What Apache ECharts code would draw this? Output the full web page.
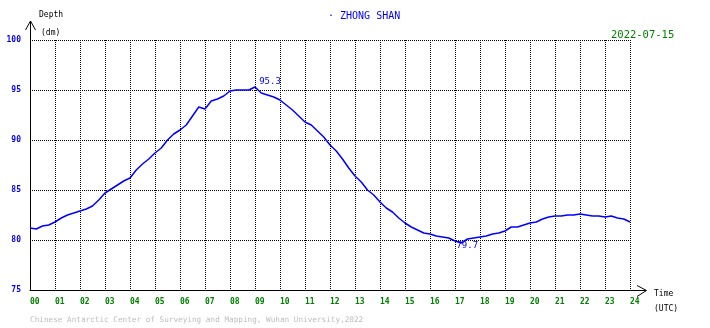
<!DOCTYPE html>
<html>
<head>
<meta charset="utf-8">
<script src="https://cdn.jsdelivr.net/npm/echarts@6/dist/echarts.min.js"></script>
<style>html,body{margin:0;padding:0;background:#fff;}#c{width:710px;height:328px;}</style>
</head>
<body>
<div id="c"></div>
<script>
// Depth (dm) sampled every 15 minutes, 00:00 .. 24:00 UTC
const stepMinutes = 15;
const depthValues = [
  81.2, 81.1, 81.4, 81.5, 81.8, 82.2, 82.5, 82.7, 82.9, 83.1, 83.4, 84.0,
  84.7, 85.1, 85.5, 85.9, 86.2, 87.0, 87.6, 88.1, 88.7, 89.2, 90.0, 90.6,
  91.0, 91.5, 92.4, 93.3, 93.1, 93.9, 94.1, 94.4, 94.9, 95.0, 95.0, 95.0,
  95.3, 94.7, 94.5, 94.3, 94.0, 93.5, 93.0, 92.4, 91.8, 91.5, 90.9, 90.3,
  89.5, 88.9, 88.1, 87.2, 86.4, 85.8, 85.0, 84.5, 83.8, 83.2, 82.8, 82.2,
  81.7, 81.3, 81.0, 80.7, 80.6, 80.4, 80.3, 80.2, 79.9, 79.7, 80.1, 80.2,
  80.3, 80.4, 80.6, 80.7, 80.9, 81.3, 81.3, 81.5, 81.7, 81.8, 82.1, 82.3,
  82.4, 82.4, 82.5, 82.5, 82.6, 82.5, 82.4, 82.4, 82.3, 82.4, 82.2, 82.1,
  81.8
];
const xTickLabels = ['00','01','02','03','04','05','06','07','08','09','10','11','12',
                     '13','14','15','16','17','18','19','20','21','22','23','24'];
const yTicks = [75, 80, 85, 90, 95, 100];
const titleText = '· ZHONG SHAN';
const dateText = '2022-07-15';
const footerText = 'Chinese Antarctic Center of Surveying and Mapping, Wuhan University,2022';

const seriesData = depthValues.map((v, i) => [i * stepMinutes / 60, v]);
const MONO = '"DejaVu Sans Mono", "Liberation Mono", monospace';

const chart = echarts.init(document.getElementById('c'), null, {renderer: 'canvas'});
chart.setOption({
  animation: false,
  backgroundColor: '#ffffff',
  grid: {left: 30, right: 80, top: 40, bottom: 38, containLabel: false},
  xAxis: {
    type: 'value', min: 0, max: 24, interval: 1,
    axisLine: {show: true, lineStyle: {color: '#000', width: 1}},
    axisTick: {show: false},
    axisLabel: {
      color: '#008000', fontFamily: MONO, fontSize: 8, fontWeight: 'bold',
      align: 'left', margin: 8,
      formatter: v => xTickLabels[Math.round(v)]
    },
    splitLine: {show: true, lineStyle: {color: '#000', type: [1, 1], width: 1}}
  },
  yAxis: {
    type: 'value', min: yTicks[0], max: yTicks[yTicks.length - 1], interval: 5,
    axisLine: {show: true, lineStyle: {color: '#000', width: 1}},
    axisTick: {show: false},
    axisLabel: {color: '#0000ff', fontFamily: MONO, fontSize: 8, fontWeight: 'bold', margin: 9},
    splitLine: {show: true, lineStyle: {color: '#000', type: [1, 1], width: 1}}
  },
  series: [{
    type: 'line',
    data: seriesData,
    showSymbol: false,
    lineStyle: {color: '#0000ff', width: 1.5},
    itemStyle: {color: '#0000ff'},
    markPoint: {
      symbol: 'circle', symbolSize: 0,
      label: {
        show: true, color: '#0000ff', fontFamily: MONO, fontSize: 9,
        formatter: p => p.value.toFixed(1)
      },
      data: [
        {type: 'max', valueDim: 'y', label: {offset: [15, -5]}},
        {type: 'min', valueDim: 'y', label: {offset: [6, 3]}}
      ]
    }
  }],
  graphic: [
    {type: 'line', shape: {x1: 30.5, y1: 21, x2: 30.5, y2: 40}, style: {stroke: '#000', lineWidth: 1}},
    {type: 'polyline', shape: {points: [[25.5, 30], [30.5, 21], [35.5, 30]]}, style: {stroke: '#000', lineWidth: 1, fill: null}},
    {type: 'line', shape: {x1: 630, y1: 290.5, x2: 646, y2: 290.5}, style: {stroke: '#000', lineWidth: 1}},
    {type: 'polyline', shape: {points: [[637, 285.5], [646.5, 290.5], [637, 296.5]]}, style: {stroke: '#000', lineWidth: 1, fill: null}},
    {type: 'text', left: 328, top: 11, style: {text: titleText, fill: '#0000ff', font: '10px ' + MONO}},
    {type: 'text', left: 611, top: 30, style: {text: dateText, fill: '#008000', font: '10.5px ' + MONO}},
    {type: 'text', left: 39, top: 11, style: {text: 'Depth', fill: '#000', font: '8px ' + MONO}},
    {type: 'text', left: 41, top: 29, style: {text: '(dm)', fill: '#000', font: '8px ' + MONO}},
    {type: 'text', left: 654, top: 290, style: {text: 'Time', fill: '#000', font: '8px ' + MONO}},
    {type: 'text', left: 654, top: 305, style: {text: '(UTC)', fill: '#000', font: '8px ' + MONO}},
    {type: 'text', left: 30, top: 316, style: {text: footerText, fill: '#bdbdbd', font: '7.7px ' + MONO}}
  ]
});
</script>
</body>
</html>
